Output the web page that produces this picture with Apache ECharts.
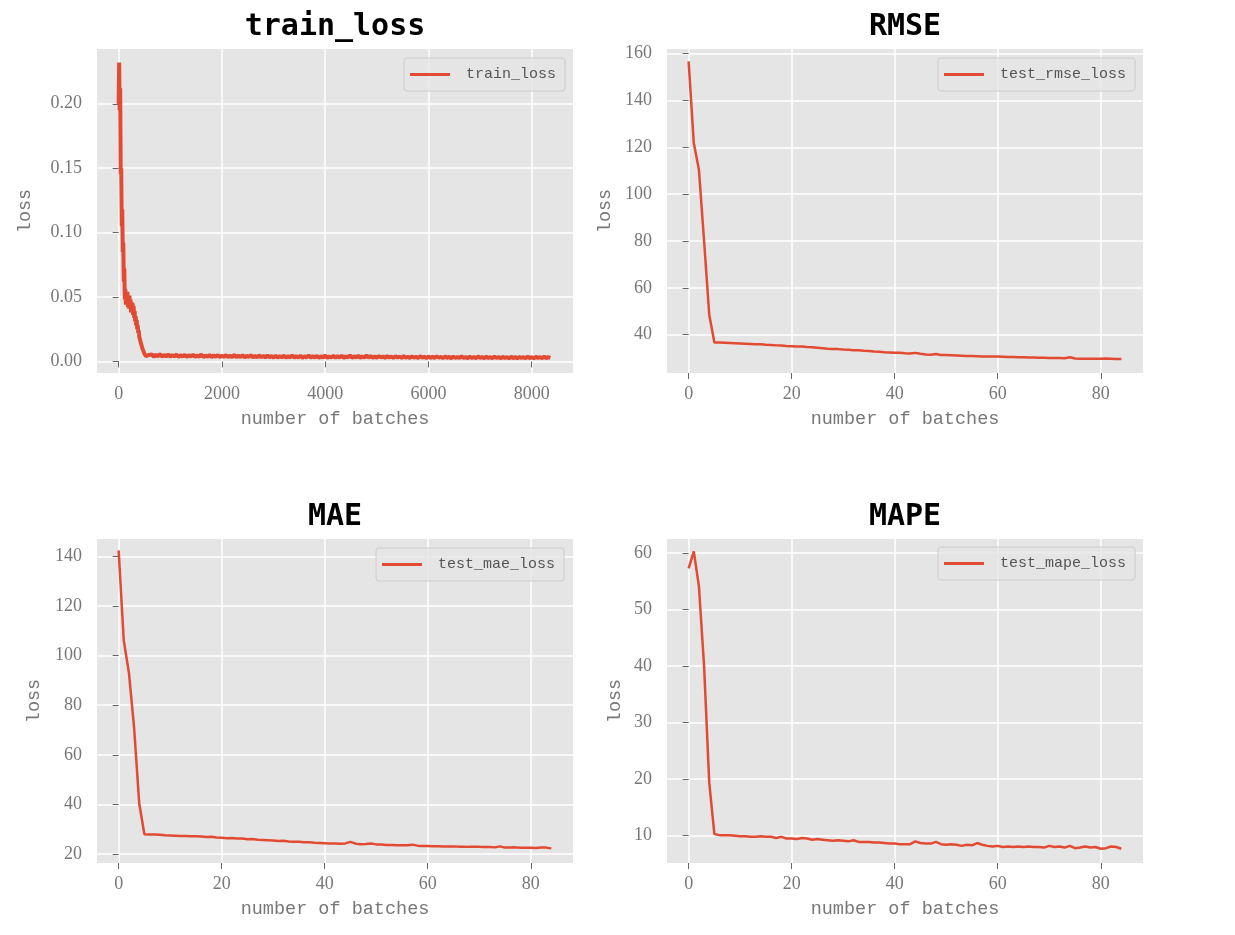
<!DOCTYPE html>
<html>
<head>
    <meta charset="utf-8" />
    <title>loss curves</title>
    <script src="https://cdn.jsdelivr.net/npm/echarts@6/dist/echarts.min.js"></script>
    <style>
        html, body { margin: 0; padding: 0; background: #fff; }
        #container { width: 1235px; height: 935px; }
    </style>
</head>
<body>
    <div id="container"></div>
    <script>
        // train loss, batches 0..590 every 10 batches
        var trainEarlyStep = 10;
        var trainEarly = [
            0.200, 0.232, 0.195, 0.212, 0.145, 0.150, 0.105, 0.118, 0.085, 0.092,
            0.062, 0.072, 0.048, 0.056, 0.044, 0.051, 0.045, 0.054, 0.042, 0.049,
            0.041, 0.051, 0.044, 0.048, 0.038, 0.046, 0.040, 0.045, 0.036, 0.043,
            0.034, 0.039, 0.031, 0.035, 0.028, 0.032, 0.025, 0.028, 0.022, 0.024,
            0.019, 0.020, 0.016, 0.017, 0.013, 0.013, 0.010, 0.010, 0.008, 0.007,
            0.006, 0.005, 0.0045, 0.004, 0.0038, 0.005, 0.0036, 0.0048, 0.0038, 0.005
        ];
        // train loss, batches 600..8360 every 40 batches
        var trainLateStart = 600;
        var trainLateStep = 40;
        var trainLate = [
            0.0038, 0.0055, 0.0036, 0.0052, 0.0039, 0.0058, 0.0037, 0.0050, 0.0038, 0.0054,
            0.0036, 0.0049, 0.0039, 0.0053, 0.0035, 0.0048, 0.0037, 0.0052, 0.0034, 0.0048,
            0.0037, 0.0052, 0.0035, 0.0046, 0.0036, 0.0054, 0.0034, 0.0046, 0.0035, 0.0050,
            0.0033, 0.0047, 0.0036, 0.0050, 0.0032, 0.0045, 0.0035, 0.0049, 0.0033, 0.0046,
            0.0034, 0.0051, 0.0032, 0.0045, 0.0034, 0.0048, 0.0031, 0.0044, 0.0034, 0.0049,
            0.0032, 0.0044, 0.0031, 0.0047, 0.0033, 0.0043, 0.0030, 0.0046, 0.0032, 0.0042,
            0.0030, 0.0045, 0.0029, 0.0041, 0.0031, 0.0045, 0.0029, 0.0040, 0.0031, 0.0047,
            0.0029, 0.0041, 0.0030, 0.0044, 0.0028, 0.0039, 0.0031, 0.0046, 0.0029, 0.0041,
            0.0030, 0.0043, 0.0028, 0.0040, 0.0030, 0.0046, 0.0028, 0.0039, 0.0030, 0.0044,
            0.0028, 0.0041, 0.0030, 0.0045, 0.0027, 0.0039, 0.0030, 0.0048, 0.0028, 0.0040,
            0.0029, 0.0045, 0.0027, 0.0039, 0.0029, 0.0048, 0.0028, 0.0041, 0.0029, 0.0038,
            0.0029, 0.0041, 0.0031, 0.0038, 0.0027, 0.0042, 0.0030, 0.0037, 0.0028, 0.0040,
            0.0030, 0.0037, 0.0027, 0.0041, 0.0029, 0.0036, 0.0026, 0.0039, 0.0030, 0.0035,
            0.0027, 0.0040, 0.0029, 0.0036, 0.0026, 0.0038, 0.0028, 0.0035, 0.0027, 0.0039,
            0.0029, 0.0034, 0.0026, 0.0038, 0.0028, 0.0035, 0.0025, 0.0037, 0.0028, 0.0034,
            0.0026, 0.0039, 0.0028, 0.0033, 0.0025, 0.0036, 0.0027, 0.0034, 0.0025, 0.0038,
            0.0028, 0.0033, 0.0025, 0.0036, 0.0027, 0.0032, 0.0024, 0.0037, 0.0027, 0.0033,
            0.0025, 0.0035, 0.0027, 0.0032, 0.0024, 0.0036, 0.0026, 0.0033, 0.0025, 0.0034,
            0.0027, 0.0032, 0.0024, 0.0037, 0.0026, 0.0033, 0.0024, 0.0035, 0.0027, 0.0032,
            0.0025, 0.0036, 0.0026, 0.0033, 0.0028
        ];

        // test losses per epoch 0..84
        var rmseLoss = [
            156.7, 121.8, 110.4, 80.0, 48.5, 36.6, 36.6, 36.5, 36.4, 36.3,
            36.2, 36.1, 36.0, 35.9, 35.9, 35.7, 35.6, 35.4, 35.3, 35.1,
            35.0, 34.9, 34.9, 34.7, 34.6, 34.4, 34.2, 34.0, 33.9, 33.8,
            33.6, 33.5, 33.3, 33.3, 33.1, 33.0, 32.8, 32.7, 32.5, 32.4,
            32.3, 32.2, 32.0, 31.9, 32.2, 31.8, 31.5, 31.4, 31.7, 31.3,
            31.3, 31.2, 31.1, 31.0, 30.9, 30.9, 30.8, 30.7, 30.7, 30.6,
            30.6, 30.5, 30.4, 30.4, 30.3, 30.3, 30.2, 30.2, 30.1, 30.1,
            30.0, 30.0, 30.0, 29.9, 30.3, 29.8, 29.7, 29.7, 29.7, 29.7,
            29.7, 29.8, 29.7, 29.6, 29.6
        ];
        var maeLoss = [
            142.4, 106.0, 93.0, 71.0, 40.4, 28.0, 27.9, 27.9, 27.8, 27.6,
            27.5, 27.4, 27.3, 27.3, 27.2, 27.2, 27.1, 26.9, 27.0, 26.7,
            26.6, 26.4, 26.5, 26.3, 26.3, 26.0, 26.1, 25.8, 25.7, 25.6,
            25.5, 25.3, 25.4, 25.1, 25.0, 25.0, 24.8, 24.8, 24.6, 24.5,
            24.4, 24.3, 24.3, 24.2, 24.3, 24.9, 24.2, 24.0, 24.1, 24.3,
            23.9, 23.9, 23.7, 23.7, 23.6, 23.6, 23.6, 23.8, 23.4, 23.3,
            23.3, 23.2, 23.2, 23.1, 23.1, 23.1, 23.0, 23.0, 22.9, 22.9,
            22.9, 22.8, 22.9, 22.7, 23.1, 22.6, 22.6, 22.7, 22.5, 22.5,
            22.5, 22.4, 22.6, 22.6, 22.3
        ];
        var mapeLoss = [
            57.3, 60.3, 54.1, 40.0, 19.4, 10.3, 10.1, 10.1, 10.1, 10.0,
            9.9, 9.9, 9.8, 9.8, 9.9, 9.8, 9.8, 9.6, 9.8, 9.5,
            9.5, 9.4, 9.6, 9.5, 9.3, 9.4, 9.3, 9.2, 9.1, 9.2,
            9.1, 9.0, 9.2, 8.9, 8.9, 8.9, 8.8, 8.8, 8.7, 8.6,
            8.6, 8.5, 8.5, 8.5, 9.0, 8.7, 8.6, 8.6, 8.9, 8.5,
            8.4, 8.5, 8.4, 8.2, 8.4, 8.3, 8.7, 8.4, 8.2, 8.1,
            8.2, 8.0, 8.1, 8.0, 8.1, 8.0, 8.1, 8.0, 8.0, 7.9,
            8.2, 8.0, 8.1, 7.9, 8.2, 7.8, 7.9, 8.1, 7.9, 8.0,
            7.7, 7.8, 8.1, 8.0, 7.7
        ];

        // tick labels
        var batchTicks = [0, 2000, 4000, 6000, 8000];
        var epochTicks = [0, 20, 40, 60, 80];
        var trainTicks = [0, 0.05, 0.10, 0.15, 0.20];
        var rmseTicks = [40, 60, 80, 100, 120, 140, 160];
        var maeTicks = [20, 40, 60, 80, 100, 120, 140];
        var mapeTicks = [10, 20, 30, 40, 50, 60];

        function trainPairs() {
            var out = [];
            trainEarly.forEach(function (v, i) { out.push([i * trainEarlyStep, v]); });
            trainLate.forEach(function (v, i) { out.push([trainLateStart + i * trainLateStep, v]); });
            return out;
        }
        function epochPairs(arr) {
            return arr.map(function (v, i) { return [i, v]; });
        }

        var RED = '#E24A33';
        var TICK_FONT = '"Liberation Serif", serif';
        var MONO = '"Liberation Mono", monospace';

        var panels = [
            { title: 'train_loss', name: 'train_loss', left: 97, top: 49, xr: [-419, 8799], yr: [-0.0090, 0.2425],
              xt: batchTicks, yt: trainTicks, fmt: function (v) { return v.toFixed(2); }, gap: 62, data: trainPairs(),
              lx: 404, ly: 58, lw: 4 },
            { title: 'RMSE', name: 'test_rmse_loss', left: 667, top: 49, xr: [-4.2, 88.2], yr: [23.6, 162.0],
              xt: epochTicks, yt: rmseTicks, fmt: String, gap: 52, data: epochPairs(rmseLoss), lx: 938, ly: 58, lw: 2.5 },
            { title: 'MAE', name: 'test_mae_loss', left: 97, top: 539, xr: [-4.2, 88.2], yr: [16.4, 147.0],
              xt: epochTicks, yt: maeTicks, fmt: String, gap: 53, data: epochPairs(maeLoss), lx: 376, ly: 548, lw: 2.5 },
            { title: 'MAPE', name: 'test_mape_loss', left: 667, top: 539, xr: [-4.2, 88.2], yr: [5.17, 62.5],
              xt: epochTicks, yt: mapeTicks, fmt: String, gap: 42, data: epochPairs(mapeLoss), lx: 938, ly: 547, lw: 2.5 }
        ];

        var W = 476, H = 324;
        var option = { animation: false, backgroundColor: '#fff', title: [], legend: [], grid: [], xAxis: [], yAxis: [], series: [] };

        panels.forEach(function (p, i) {
            option.grid.push({ left: p.left, top: p.top, width: W, height: H, show: true, backgroundColor: '#E5E5E5', borderWidth: 0 });
            option.title.push({
                text: p.title, left: p.left + W / 2, top: p.top - 37, textAlign: 'center', padding: 0,
                textStyle: { fontFamily: '"DejaVu Sans Mono", monospace', fontSize: 30, fontWeight: 'bold', color: '#000' }
            });
            option.legend.push({
                data: [p.name], left: p.lx, top: p.ly, padding: [8, 9, 8, 6],
                icon: 'rect', itemWidth: 40, itemHeight: 3,
                backgroundColor: 'rgba(229,229,229,0.8)', borderColor: '#CCCCCC', borderWidth: 1, borderRadius: 3,
                textStyle: { fontFamily: MONO, fontSize: 15, color: '#555', lineHeight: 17, padding: [0, 0, 0, 11] }
            });
            option.xAxis.push({
                type: 'value', gridIndex: i, min: p.xr[0], max: p.xr[1],
                name: 'number of batches', nameLocation: 'middle', nameGap: 37,
                nameTextStyle: { fontFamily: MONO, fontSize: 18.5, color: '#777' },
                axisLine: { show: false },
                axisTick: { show: true, customValues: p.xt, length: 6, lineStyle: { color: '#666', width: 1 } },
                axisLabel: { customValues: p.xt, margin: 12, fontFamily: TICK_FONT, fontSize: 18, color: '#777', formatter: String },
                splitLine: { show: true, lineStyle: { color: '#fff', width: 1.5 } }
            });
            option.yAxis.push({
                type: 'value', gridIndex: i, min: p.yr[0], max: p.yr[1],
                name: 'loss', nameLocation: 'middle', nameGap: p.gap,
                nameTextStyle: { fontFamily: MONO, fontSize: 18.5, color: '#777' },
                axisLine: { show: false },
                axisTick: { show: true, customValues: p.yt, length: 6, lineStyle: { color: '#666', width: 1 } },
                axisLabel: { customValues: p.yt, margin: 15, fontFamily: TICK_FONT, fontSize: 18, color: '#777', formatter: p.fmt },
                splitLine: { show: true, lineStyle: { color: '#fff', width: 1.5 } }
            });
            option.series.push({
                name: p.name, type: 'line', xAxisIndex: i, yAxisIndex: i, data: p.data,
                showSymbol: false, symbol: 'none', itemStyle: { color: RED },
                lineStyle: { color: RED, width: p.lw }
            });
        });

        var myChart = echarts.init(document.getElementById('container'));
        myChart.setOption(option);
    </script>
</body>
</html>
